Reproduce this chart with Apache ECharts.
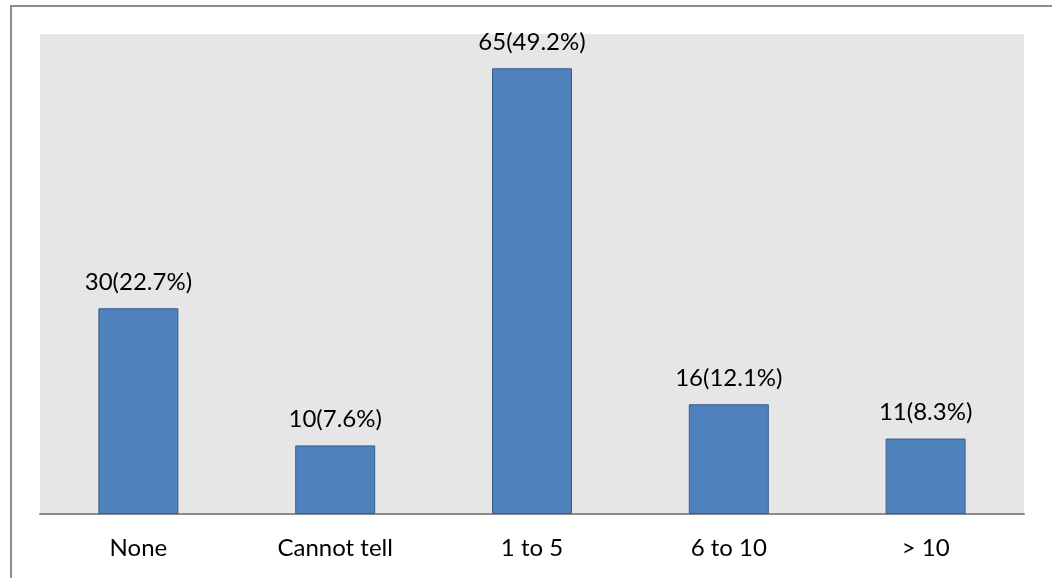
<!DOCTYPE html>
<html>
<head>
<meta charset="utf-8">
<script src="https://cdn.jsdelivr.net/npm/echarts@6/dist/echarts.min.js"></script>
<style>
  html, body { margin: 0; padding: 0; background: #fff; }
  #main { width: 1052px; height: 578px; }
</style>
</head>
<body>
<div id="main"></div>
<script>
var categories = ['None', 'Cannot tell', '1 to 5', '6 to 10', '> 10'];
var counts = [30, 10, 65, 16, 11];
var percents = ['22.7', '7.6', '49.2', '12.1', '8.3'];

var chart = echarts.init(document.getElementById('main'));

var option = {
  animation: false,
  textStyle: { fontFamily: 'Lato' },
  graphic: [{
    type: 'rect',
    shape: { x: 11, y: 6, width: 1060, height: 620 },
    style: { fill: 'none', stroke: '#8c8c8c', lineWidth: 2 },
    silent: true
  }],
  grid: {
    left: 40, right: 28, top: 34, bottom: 64,
    show: true, backgroundColor: '#e6e6e6', borderWidth: 0
  },
  xAxis: {
    type: 'category',
    data: categories,
    axisLine: { show: true, lineStyle: { color: '#8c8c8c', width: 2 } },
    axisTick: { show: false },
    axisLabel: { color: '#000', fontSize: 24, margin: 22 }
  },
  yAxis: {
    type: 'value',
    min: 0, max: 70,
    show: false,
    splitLine: { show: false }
  },
  series: [{
    type: 'bar',
    data: counts,
    barWidth: 80,
    itemStyle: { color: '#4f81bd', borderColor: '#385d8a', borderWidth: 1 },
    label: {
      show: true,
      position: 'top',
      distance: 14,
      color: '#000',
      fontSize: 24,
      formatter: function (p) { return p.value + '(' + percents[p.dataIndex] + '%)'; }
    }
  }]
};

chart.setOption(option);
</script>
</body>
</html>
